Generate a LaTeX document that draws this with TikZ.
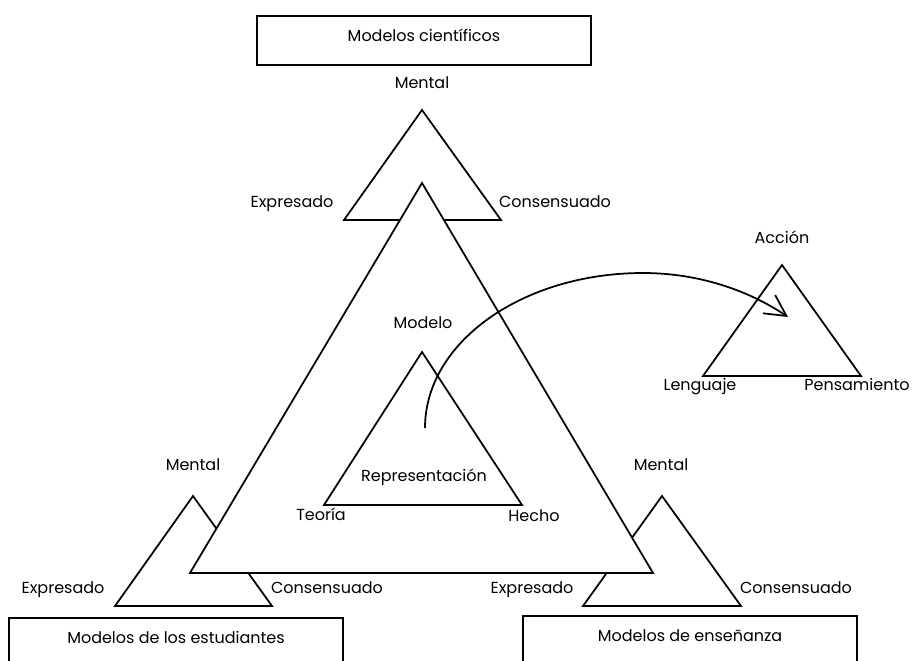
\documentclass[tikz,border=0pt]{standalone}
\usepackage{fontspec}
\setmainfont{Poppins}
\usetikzlibrary{arrows.meta}

\tikzset{
    lbl/.style={inner sep=0pt, anchor=base},
    modelbox/.style={draw, line width=1pt, anchor=north, inner sep=0pt,
        minimum width=6.68cm, text height=0.51cm, text depth=0.47cm},
    tri/.style={draw, line width=1pt, fill=white, line join=miter},
}

\begin{document}
\begin{tikzpicture}[x=0.02cm, y=-0.02cm, font=\fontsize{9.1}{11}\selectfont]
    \useasboundingbox (0,0) rectangle (913,660);

    % boxes
    \node[modelbox] (cient) at (424,15) {Modelos científicos};
    \node[modelbox] (estud) at (176,617) {Modelos de los estudiantes};
    \node[modelbox] (ense) at (690,615) {Modelos de enseñanza};

    % small triangles behind the big one
    \coordinate (tm) at (422,110); \coordinate (te) at (344,220); \coordinate (tc) at (501,220);
    \coordinate (lm) at (193,496); \coordinate (le) at (115,606); \coordinate (lc) at (272,606);
    \coordinate (rm) at (662,496); \coordinate (re) at (583,606); \coordinate (rc) at (741,606);
    \draw[tri] (te) -- (tm) -- (tc) -- cycle;
    \draw[tri] (le) -- (lm) -- (lc) -- cycle;
    \draw[tri] (re) -- (rm) -- (rc) -- cycle;

    % big triangle and inner triangle
    \coordinate (ba) at (422,183); \coordinate (bl) at (190,573); \coordinate (br) at (653,573);
    \draw[tri] (bl) -- (ba) -- (br) -- cycle;
    \coordinate (mo) at (422,352); \coordinate (teo) at (324,505); \coordinate (he) at (522,505);
    \draw[tri] (teo) -- (mo) -- (he) -- cycle;

    % action triangle
    \coordinate (ac) at (782,265); \coordinate (len) at (703,376); \coordinate (pen) at (861,376);
    \draw[tri] (len) -- (ac) -- (pen) -- cycle;

    % labels
    \node[lbl] (tmental) at (422,88) {Mental};
    \node[lbl] (texpr) at (292,207) {Expresado};
    \node[lbl] (tcons) at (555,207) {Consensuado};
    \node[lbl] (modelo) at (423,328) {Modelo};
    \node[lbl] (repr) at (424,481) {Representación};
    \node[lbl] (teoria) at (321,520) {Teoría};
    \node[lbl] (hecho) at (534,521) {Hecho};
    \node[lbl] (lmental) at (193,470) {Mental};
    \node[lbl] (lexpr) at (63,593) {Expresado};
    \node[lbl] (lcons) at (327,593) {Consensuado};
    \node[lbl] (rmental) at (661,470) {Mental};
    \node[lbl] (rexpr) at (532,593) {Expresado};
    \node[lbl] (rcons) at (796,593) {Consensuado};
    \node[lbl] (accion) at (782,243) {Acción};
    \node[lbl] (lenguaje) at (700,390) {Lenguaje};
    \node[lbl] (pensam) at (857,390) {Pensamiento};

    % arrow from the model to the action
    \coordinate (arcstart) at (425,428);
    \coordinate (arctop) at (643,273);
    \coordinate (arcend) at (788,317);
    \draw[line width=1pt, -{Straight Barb[length=0.42cm, width=0.44cm]}]
        (arcstart) .. controls (425,342) and (523,273) .. (arctop)
        .. controls (698,273) and (748,290) .. (arcend);
\end{tikzpicture}
\end{document}
